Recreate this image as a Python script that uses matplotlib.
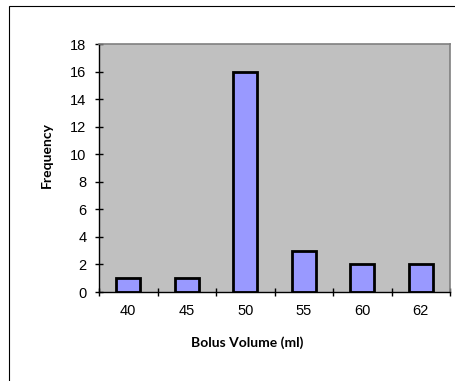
import matplotlib.pyplot as plt
import numpy as np
from matplotlib.patches import Rectangle

categories = ["40", "45", "50", "55", "60", "62"]
frequency = [1, 1, 16, 3, 2, 2]
y_ticks = [0, 2, 4, 6, 8, 10, 12, 14, 16, 18]

plt.rcParams["font.family"] = ["Liberation Sans", "DejaVu Sans"]

W, H = 456, 381
fig = plt.figure(figsize=(W / 100, H / 100), dpi=100)
ax = fig.add_axes([99 / W, 1 - 292 / H, (450 - 99) / W, (292 - 44) / H])

# outer chart border
fig.patches.append(Rectangle((9 / W, -0.01), 1.0, 1 - 6 / H + 0.01,
                             transform=fig.transFigure, fill=False,
                             edgecolor="black", linewidth=0.8))

x = np.arange(len(categories))
ax.bar(x, frequency, width=0.41, color="#9999FF", edgecolor="black", linewidth=2)

ax.set_facecolor("#C0C0C0")
ax.set_xlim(-0.5, len(categories) - 0.5)
ax.set_ylim(0, 18)
ax.set_yticks(y_ticks)
ax.set_xticks(x)
ax.set_xticklabels(categories)
ax.set_xticks(np.arange(len(categories) + 1) - 0.5, minor=True)
ax.tick_params(axis="x", which="major", length=0, pad=8.5, labelsize=10.5)
ax.tick_params(axis="x", which="minor", direction="inout", length=6, width=1)
ax.tick_params(axis="y", direction="inout", length=6, width=1, pad=6, labelsize=10.5)

for side in ("top", "right"):
    ax.spines[side].set_color("#808080")
    ax.spines[side].set_linewidth(1.2)
for side in ("left", "bottom"):
    ax.spines[side].set_color("black")
    ax.spines[side].set_linewidth(1)

label_font = dict(family=["Lato", "DejaVu Sans"], fontweight="bold", fontsize=10)
fig.text(247 / W, 1 - 343 / H, "Bolus Volume (ml)", ha="center", va="center",
         **label_font)
fig.text(47 / W, 1 - 155 / H, "Frequency", ha="center", va="center",
         rotation=90, **label_font)

fig.savefig("out.png", dpi=100)
